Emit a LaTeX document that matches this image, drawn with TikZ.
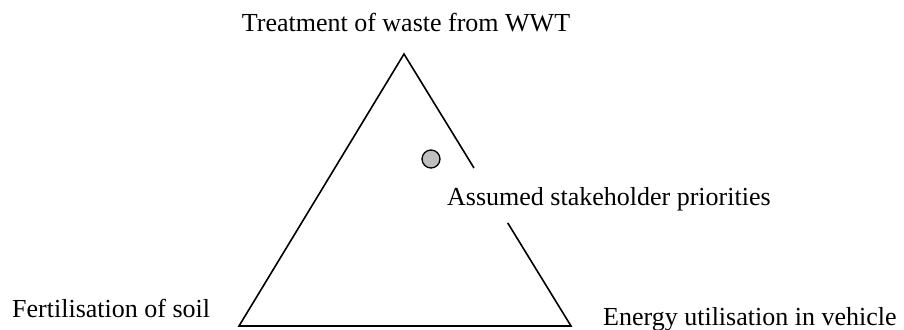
\documentclass[tikz,border=0pt]{standalone}
\usepackage{fontspec}
\setmainfont{Liberation Serif}
\usetikzlibrary{calc}
\begin{document}
\begin{tikzpicture}[x=1pt,y=-1pt,
  lbl/.style={inner sep=0pt, font=\fontsize{26}{30}\selectfont},
  edge/.style={draw=black, line width=1.6pt, line join=miter},
  marker/.style={circle, draw=black, line width=1.3pt, fill=black!25, minimum size=18pt, inner sep=0pt}]
\useasboundingbox (0,0) rectangle (904,329);
\coordinate (top) at (404,54);
\coordinate (bl) at (239,326);
\coordinate (br) at (571,326);
\coordinate (gapA) at ($(top)!0.419!(br)$);
\coordinate (gapB) at ($(top)!0.621!(br)$);
\draw[edge] (gapA) -- (top) -- (bl) -- (br) -- (gapB);
\node[marker] (pt) at (431,159) {};
\node[lbl, anchor=base] (t1) at (406,32) {Treatment of waste from WWT};
\node[lbl, anchor=base west] (t2) at (12,317) {Fertilisation of soil};
\node[lbl, anchor=base west] (t3) at (603,325) {Energy utilisation in vehicle};
\node[lbl, anchor=base west] (t4) at (447,205) {Assumed stakeholder priorities};
\end{tikzpicture}
\end{document}
